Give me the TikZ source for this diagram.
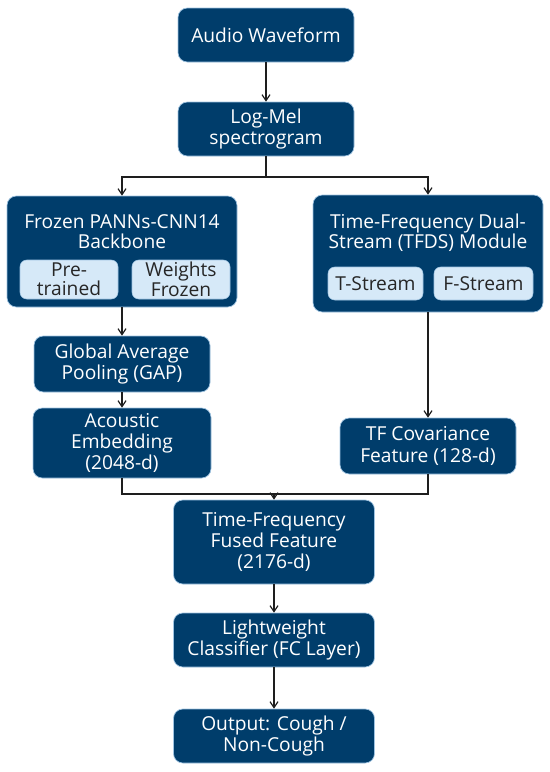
\documentclass[tikz,border=0pt]{standalone}
\usepackage{fontspec}
\setmainfont{Open Sans}
\usetikzlibrary{arrows.meta}
\definecolor{navy}{HTML}{003D6B}
\definecolor{lightbox}{HTML}{D6E9F8}
\definecolor{edgeblue}{HTML}{9FC4E2}
\definecolor{linegray}{HTML}{1E1E1E}
\begin{document}
\begin{tikzpicture}[x=0.75pt,y=-0.75pt,
  mainbox/.style={rectangle,rounded corners=7pt,fill=navy,draw=edgeblue,line width=0.5pt,
    text=white,align=center,inner sep=0pt,
    font=\fontsize{14.4pt}{16pt}\selectfont},
  subbox/.style={rectangle,rounded corners=5pt,fill=lightbox,draw=edgeblue,line width=0.4pt,
    text=black!85,align=center,inner sep=0pt,
    font=\fontsize{14.4pt}{14.6pt}\selectfont},
  titletext/.style={text=white,align=center,inner sep=0pt,
    font=\fontsize{14.4pt}{15.2pt}\selectfont},
  conn/.style={draw=linegray,line width=0.9pt},
  arr/.style={conn,-{Straight Barb[length=4.5pt,width=6pt]}}]
\useasboundingbox (0,0) rectangle (550,772);
\fill[white] (0,0) rectangle (550,772);

\node[mainbox,minimum width=176*0.75pt,minimum height=54*0.75pt] (aw) at (266,35) {Audio Waveform};
\node[mainbox,minimum width=176*0.75pt,minimum height=54*0.75pt] (lm) at (266,129) {Log-Mel\\spectrogram};

\node[mainbox,minimum width=230*0.75pt,minimum height=111*0.75pt] (frozen) at (122,251.5) {};
\node[titletext] (frozent) at (122,232) {Frozen PANNs-CNN14\\Backbone};
\node[subbox,minimum width=98*0.75pt,minimum height=39*0.75pt] (pre) at (69,279.5) {Pre-\\trained};
\node[subbox,minimum width=98*0.75pt,minimum height=39*0.75pt] (wf) at (181,279.5) {Weights\\Frozen};

\node[mainbox,minimum width=230*0.75pt,minimum height=117*0.75pt] (tfds) at (428,253.5) {};
\node[titletext] (tfdst) at (428,232.5) {Time-Frequency Dual-\\Stream (TFDS) Module};
\node[subbox,minimum width=95*0.75pt,minimum height=33*0.75pt] (ts) at (375.5,283.5) {T-Stream};
\node[subbox,minimum width=99*0.75pt,minimum height=33*0.75pt] (fs) at (483.5,283.5) {F-Stream};

\node[mainbox,minimum width=176*0.75pt,minimum height=56*0.75pt] (gap) at (122,364) {Global Average\\Pooling (GAP)};
\node[mainbox,minimum width=178*0.75pt,minimum height=70*0.75pt] (ae) at (122,443) {Acoustic\\Embedding\\(2048-d)};
\node[mainbox,minimum width=176*0.75pt,minimum height=56*0.75pt] (tfc) at (428,446) {TF Covariance\\Feature (128-d)};

\node[mainbox,minimum width=201*0.75pt,minimum height=84*0.75pt] (fused) at (274,542) {Time-Frequency\\Fused Feature\\(2176-d)};
\node[mainbox,minimum width=201*0.75pt,minimum height=54*0.75pt] (lw) at (274,640) {Lightweight\\Classifier (FC Layer)};
\node[mainbox,minimum width=201*0.75pt,minimum height=54*0.75pt] (out) at (274,736) {Output: Cough /\\Non-Cough};

\coordinate (split) at (266,177);
\coordinate (merge) at (274,494);

\draw[arr] (aw) -- (lm);
\draw[conn] (lm.south) -- (split);
\draw[arr] (split) -| (frozen.north);
\draw[arr] (split) -| (tfds.north);
\draw[arr] (frozen) -- (gap);
\draw[arr] (gap) -- (ae);
\draw[arr] (tfds) -- (tfc);
\draw[conn] (ae.south) |- (merge);
\draw[conn] (tfc.south) |- (merge);
\draw[arr] (merge) -- (fused.north);
\draw[arr] (fused) -- (lw);
\draw[arr] (lw) -- (out);
\end{tikzpicture}
\end{document}
